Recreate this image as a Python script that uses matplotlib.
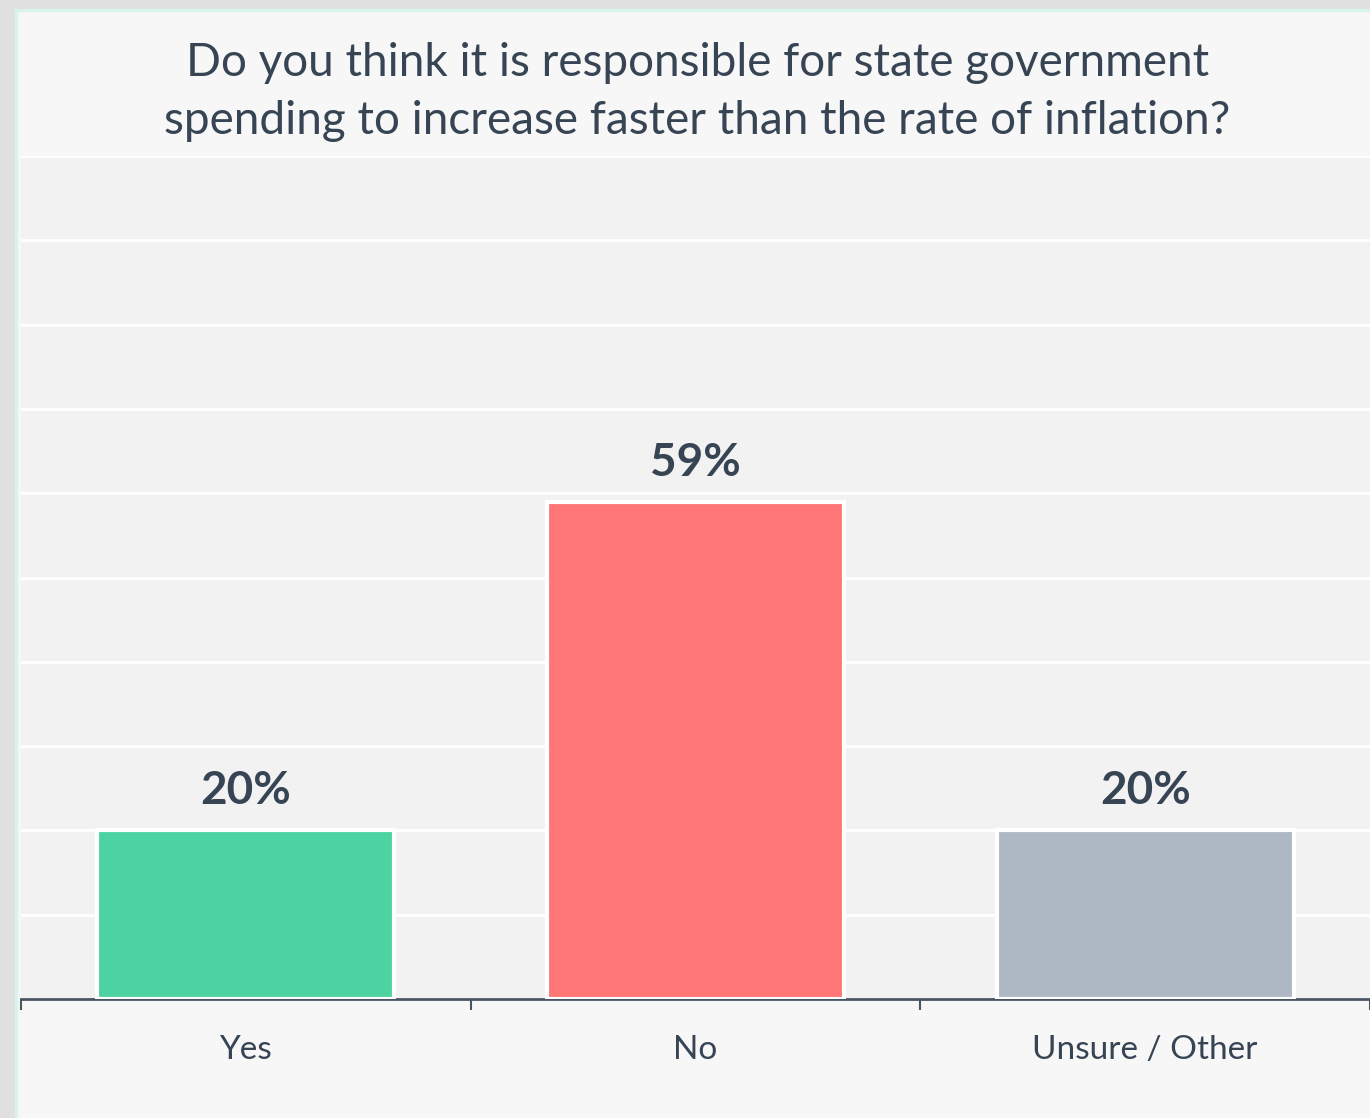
import matplotlib.pyplot as plt
from matplotlib.patches import Rectangle

categories = ['Yes', 'No', 'Unsure / Other']
values = [20, 59, 20]
colors = ['#4cd3a1', '#ff7676', '#adb8c4']
title = 'Do you think it is responsible for state government\nspending to increase faster than the rate of inflation?'

TXT = '#374454'
plt.rcParams['font.family'] = ['Lato', 'DejaVu Sans']

fig = plt.figure(figsize=(13.7, 11.18), dpi=100, facecolor='#f7f7f7')

# card border / shadow on left and top
fig.patches.append(Rectangle((0, 0), 15 / 1370, 1, transform=fig.transFigure,
                             color='#e0e0e0', zorder=0))
fig.patches.append(Rectangle((0, 1 - 9 / 1118), 1, 9 / 1118, transform=fig.transFigure,
                             color='#e0e0e0', zorder=0))
fig.patches.append(Rectangle((15 / 1370, 0), 2 / 1370, 1 - 9 / 1118, transform=fig.transFigure,
                             color='#d8f3ea', zorder=0))
fig.patches.append(Rectangle((15 / 1370, 1 - 11 / 1118), 1, 2 / 1118, transform=fig.transFigure,
                             color='#d8f3ea', zorder=0))

ax = fig.add_axes([21 / 1370, 1 - 999 / 1118, 1 - 21 / 1370, (999 - 156) / 1118])
ax.set_facecolor('#f2f2f2')

x = list(range(len(categories)))
bars = ax.bar(x, values, width=0.66, color=colors, edgecolor='white', linewidth=3, zorder=3)

for b, v in zip(bars, values):
    ax.annotate(f'{v}%', (b.get_x() + b.get_width() / 2, b.get_height()),
                xytext=(0, 13), textcoords='offset points', ha='center', va='bottom',
                fontsize=33, fontweight='bold', color=TXT)

ax.set_xlim(-0.5, 2.5)
ax.set_ylim(0, 100)
ax.set_yticks(range(0, 101, 10))
ax.yaxis.grid(True, color='white', linewidth=2, zorder=0)
ax.set_axisbelow(True)
ax.tick_params(axis='y', left=False, labelleft=False)

ax.set_xticks(x)
ax.set_xticklabels(categories)
ax.tick_params(axis='x', which='major', length=0, pad=26, labelsize=24, labelcolor=TXT)
ax.set_xticks([-0.5, 0.5, 1.5, 2.5], minor=True)
ax.tick_params(axis='x', which='minor', length=8, width=1.5, color='#4a5563')

for s in ['top', 'right', 'left']:
    ax.spines[s].set_visible(False)
ax.spines['bottom'].set_color('#4a5563')
ax.spines['bottom'].set_linewidth(2)

fig.text(0.509, 1 - 92 / 1118, title, ha='center', va='center', fontsize=33,
         color=TXT, linespacing=1.48)

fig.savefig('out.png', dpi=100, facecolor=fig.get_facecolor())
